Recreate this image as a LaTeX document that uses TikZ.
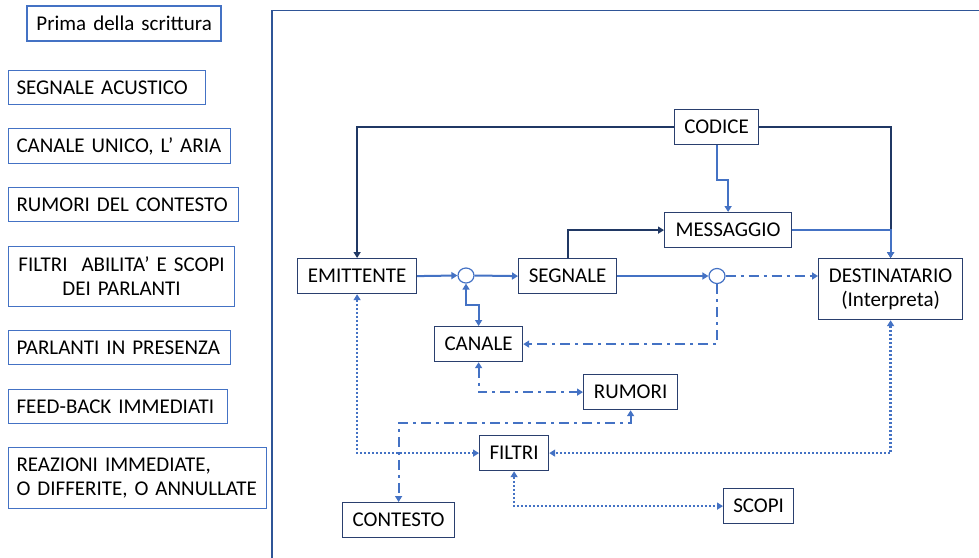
\documentclass[tikz,border=0pt]{standalone}
\usepackage{fontspec}
\setmainfont{Carlito}
\usetikzlibrary{arrows.meta,calc}
\definecolor{lblue}{HTML}{4472C4}
\definecolor{navy}{HTML}{203864}
\definecolor{frameblue}{HTML}{2F5597}
\definecolor{boxnavy}{HTML}{2A3F6E}
\tikzset{
  txt/.style={font=\fontsize{21}{24}\selectfont},
  lbox/.style={txt, draw=lblue, line width=1.1pt, anchor=north west, inner xsep=8pt, inner ysep=0pt, align=left},
  mbox/.style={txt, draw=boxnavy, line width=1.2pt, fill=white, anchor=north west, inner sep=0pt, align=center},
  junc/.style={draw=lblue, line width=1.2pt, ellipse, minimum width=16pt, minimum height=15pt, inner sep=0pt},
  tip/.style={-{Triangle[length=6pt,width=7pt]}},
  dtip/.style={{Triangle[length=6pt,width=7pt]}-{Triangle[length=6pt,width=7pt]}},
  bline/.style={draw=lblue, line width=2pt},
  nline/.style={draw=navy, line width=2pt},
  dashdot/.style={bline, line width=2.2pt, dash pattern=on 10pt off 5pt on 3pt off 5pt},
  dots/.style={bline, line width=2.3pt, dash pattern=on 2pt off 2pt},
}
\usetikzlibrary{shapes.geometric}
\begin{document}
\begin{tikzpicture}[x=1pt,y=-1pt]
\useasboundingbox (0,0) rectangle (979,557);
% frame
\draw[frameblue, line width=1.5pt] (272,600) -- (272,10.5) -- (990,10.5);
% left column
\node[lbox, draw=lblue, line width=2.4pt, minimum width=194pt, minimum height=35pt, text width=178pt, align=center] (prima) at (26,5) {Prima della scrittura};
\node[lbox, minimum width=197pt, minimum height=34pt, text width=181pt] (l1) at (8,70) {SEGNALE ACUSTICO};
\node[lbox, minimum width=222pt, minimum height=35pt, text width=206pt] (l2) at (8,128) {CANALE UNICO, L’ ARIA};
\node[lbox, minimum width=230pt, minimum height=34pt, text width=214pt] (l3) at (8,187) {RUMORI DEL CONTESTO};
\node[lbox, minimum width=226pt, minimum height=60pt, text width=210pt, align=center] (l4) at (8,246) {FILTRI\ \ ABILITA’ E SCOPI\\DEI PARLANTI};
\node[lbox, minimum width=222pt, minimum height=34pt, text width=206pt] (l5) at (8,330) {PARLANTI IN PRESENZA};
\node[lbox, minimum width=219pt, minimum height=34pt, text width=203pt] (l6) at (8,389) {FEED-BACK IMMEDIATI};
\node[lbox, minimum width=258pt, minimum height=61pt, text width=242pt] (l7) at (8,447) {REAZIONI IMMEDIATE,\\O DIFFERITE, O ANNULLATE};
% main boxes
\node[mbox, minimum width=84pt, minimum height=35pt] (codice) at (674,109) {CODICE};
\node[mbox, minimum width=127pt, minimum height=35pt] (mess) at (664,212) {MESSAGGIO};
\node[mbox, minimum width=119pt, minimum height=35pt] (emit) at (297,258) {EMITTENTE};
\node[mbox, minimum width=98pt, minimum height=35pt] (segn) at (518,258) {SEGNALE};
\node[mbox, minimum width=144pt, minimum height=61pt] (dest) at (818,258) {DESTINATARIO\\(Interpreta)};
\node[mbox, minimum width=88pt, minimum height=35pt] (canale) at (434,326) {CANALE};
\node[mbox, minimum width=94pt, minimum height=35pt] (rumori) at (583,374) {RUMORI};
\node[mbox, minimum width=69pt, minimum height=35pt] (filtri) at (479,435) {FILTRI};
\node[mbox, minimum width=112pt, minimum height=35pt] (contesto) at (342,502) {CONTESTO};
\node[mbox, minimum width=70pt, minimum height=35pt] (scopi) at (723,488) {SCOPI};
\node[junc] (c1) at (466,275.5) {};
\node[junc] (c2) at (717,276) {};
% connectors
\draw[nline, tip] (codice.west) -| (emit.north);
\draw[nline, tip] (codice.east) -| (dest.north);
\draw[nline, tip] (segn.north) |- (mess.west);
\draw[bline, tip] (codice.south) -- ++(0,35) -| (mess.north);
\draw[bline, tip] (mess.east) -| (dest.north);
\draw[bline, tip] (emit.east) -- (c1.west);
\draw[bline, tip] (c1.east) -- (segn.west);
\draw[bline, tip] (segn.east |- c2) -- (c2.west);
\draw[dashdot, tip] (c2.east) -- (dest.west |- c2);
\draw[bline, dtip] (c1.south) -- ++(0,21) -| (canale.north);
\draw[dashdot, tip] (c2.south) |- (canale.east);
\draw[dashdot, dtip] (canale.south) |- (rumori.west);
\draw[dashdot, dtip] (rumori.south) -- ++(0,13) -| (contesto.north);
\draw[dots, dtip] (emit.south) |- (filtri.west);
\draw[dots, dtip] (dest.south) |- (filtri.east);
\draw[dots, dtip] (filtri.south) |- (scopi.west);
\end{tikzpicture}
\end{document}
